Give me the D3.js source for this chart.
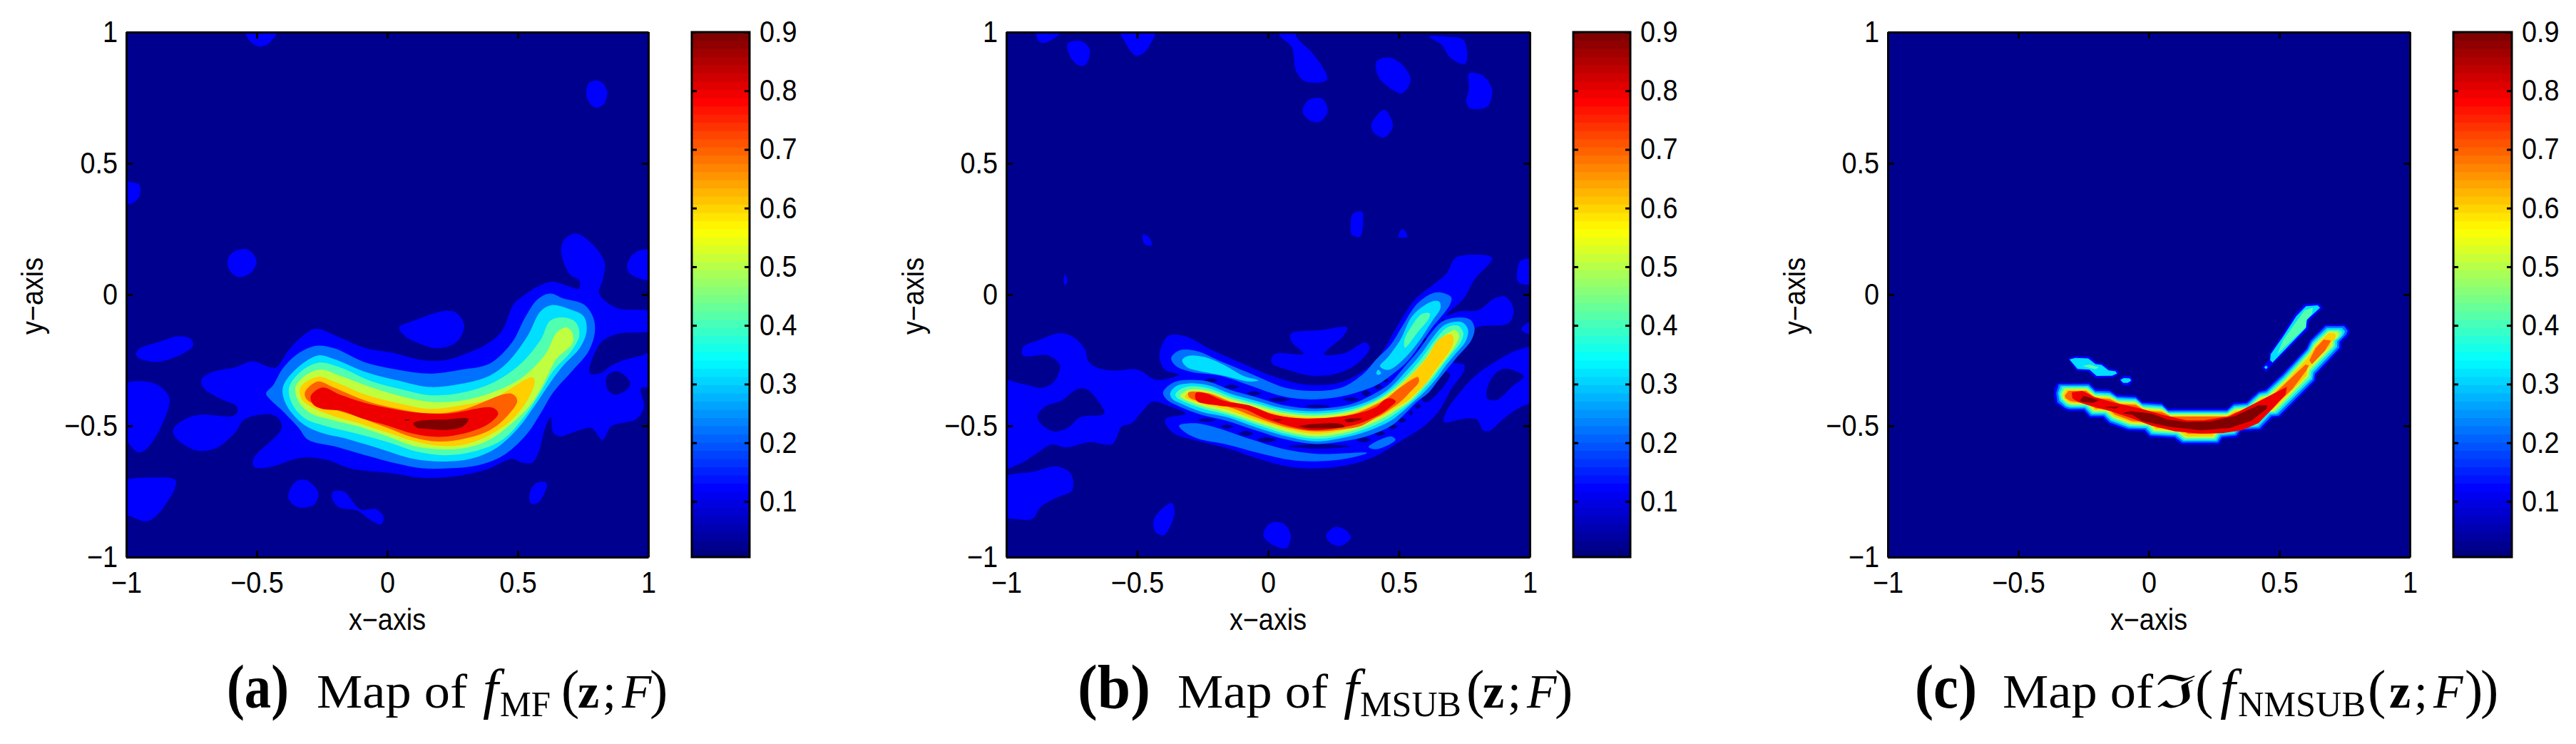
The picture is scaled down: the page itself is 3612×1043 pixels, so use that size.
<!DOCTYPE html>
<html><head><meta charset="utf-8">
<script src="https://cdn.jsdelivr.net/npm/d3@7"></script>
<style>html,body{margin:0;background:#fff}svg{display:block}text{fill:#000}</style>
</head><body><svg id="c" width="3612" height="1043"></svg>
<script>
// Contour levels of the maps, and their fill colours (background = below 0.1)
const levels=[0,0.1,0.2,0.3,0.4,0.5,0.6,0.7,0.8,0.9];
const levelColors=["#00008F","#0000FF","#0070FF","#00DFFF","#50FFAF","#BFFF40","#FFCF00","#FF6000","#EF0000","#800000"];
const axisTicks=[-1,-0.5,0,0.5,1];
const colorbarTicks=[0.1,0.2,0.3,0.4,0.5,0.6,0.7,0.8,0.9];
const colorbarDomain=[0.005,0.9];

// ---- panel (a) iso-lines [x,y]
const mfL1main=[[-0.272,-0.130],[-0.181,-0.164],[-0.083,-0.204],[0.026,-0.223],[0.136,-0.250],[0.222,-0.250],[0.307,-0.223],[0.392,-0.182],[0.441,-0.136],[0.484,-0.037],[0.526,-0.001],[0.587,0.036],[0.636,0.049],[0.697,0.031],[0.734,0.022],[0.736,0.054],[0.70,0.076],[0.666,0.166],[0.680,0.211],[0.722,0.233],[0.785,0.193],[0.833,0.121],[0.826,0.058],[0.812,0.004],[0.879,-0.051],[1.02,-0.069],[1.02,-0.132],[0.879,-0.150],[0.816,-0.186],[0.776,-0.299],[0.819,-0.299],[0.856,-0.272],[0.904,-0.250],[0.975,-0.232],[1.02,-0.22],[1.02,-0.35],[0.973,-0.357],[0.983,-0.43],[0.952,-0.475],[0.858,-0.502],[0.825,-0.553],[0.782,-0.508],[0.734,-0.517],[0.661,-0.540],[0.636,-0.526],[0.626,-0.467],[0.602,-0.517],[0.581,-0.598],[0.557,-0.639],[0.514,-0.639],[0.478,-0.626],[0.392,-0.662],[0.283,-0.689],[0.136,-0.698],[0.014,-0.680],[-0.144,-0.662],[-0.230,-0.630],[-0.327,-0.621],[-0.449,-0.657],[-0.510,-0.657],[-0.513,-0.626],[-0.406,-0.512],[-0.413,-0.476],[-0.449,-0.456],[-0.547,-0.476],[-0.583,-0.526],[-0.656,-0.585],[-0.730,-0.594],[-0.803,-0.553],[-0.821,-0.517],[-0.778,-0.476],[-0.717,-0.458],[-0.596,-0.463],[-0.575,-0.449],[-0.577,-0.426],[-0.644,-0.395],[-0.705,-0.354],[-0.711,-0.322],[-0.669,-0.295],[-0.583,-0.277],[-0.516,-0.254],[-0.449,-0.277],[-0.425,-0.277],[-0.376,-0.209],[-0.315,-0.150]];
const mfL1blobs=[
[[-0.545,1.02],[-0.53,0.97],[-0.49,0.945],[-0.45,0.96],[-0.42,1.02]],
[[0.774,0.807],[0.816,0.812],[0.843,0.771],[0.826,0.722],[0.795,0.713],[0.764,0.753]],
[[-1.02,0.44],[-0.981,0.428],[-0.950,0.419],[-0.950,0.374],[-0.981,0.347],[-1.02,0.355]],
[[-0.584,0.166],[-0.532,0.170],[-0.501,0.130],[-0.521,0.085],[-0.574,0.067],[-0.609,0.103],[-0.609,0.139]],
[[0.921,0.121],[0.952,0.162],[1.02,0.166],[1.02,0.058],[0.941,0.072],[0.921,0.094]],
[[0.045,-0.126],[0.100,-0.100],[0.222,-0.062],[0.264,-0.069],[0.295,-0.118],[0.264,-0.182],[0.191,-0.204],[0.112,-0.182],[0.069,-0.159]],
[[-0.955,-0.21],[-0.864,-0.177],[-0.803,-0.159],[-0.754,-0.168],[-0.744,-0.195],[-0.778,-0.222],[-0.864,-0.254],[-0.913,-0.254],[-0.96,-0.235]],
[[-1.02,-0.348],[-0.898,-0.336],[-0.835,-0.393],[-0.866,-0.502],[-0.918,-0.583],[-0.950,-0.601],[-0.985,-0.574],[-1.02,-0.466]],
[[-1.02,-0.718],[-0.898,-0.697],[-0.810,-0.709],[-0.856,-0.809],[-0.918,-0.863],[-0.981,-0.845],[-1.02,-0.827]],
[[-0.354,-0.715],[-0.312,-0.706],[-0.264,-0.755],[-0.281,-0.800],[-0.344,-0.809],[-0.379,-0.773]],
[[-0.208,-0.751],[-0.166,-0.751],[-0.103,-0.818],[-0.041,-0.818],[-0.014,-0.848],[-0.024,-0.875],[-0.072,-0.854],[-0.114,-0.823],[-0.187,-0.809],[-0.212,-0.773]],
[[0.576,-0.715],[0.611,-0.718],[0.603,-0.755],[0.576,-0.794],[0.549,-0.794],[0.549,-0.745]]
];
const mfHoles=[[[0.843,-0.309],[0.880,-0.292],[0.929,-0.331],[0.923,-0.358],[0.868,-0.381],[0.841,-0.354]]];
const mfL2=[[-0.272,-0.195],[-0.205,-0.204],[-0.083,-0.259],[0.039,-0.286],[0.161,-0.301],[0.283,-0.286],[0.392,-0.263],[0.478,-0.182],[0.526,-0.091],[0.575,-0.019],[0.624,0.004],[0.673,-0.014],[0.752,-0.037],[0.789,-0.087],[0.795,-0.146],[0.770,-0.218],[0.709,-0.290],[0.636,-0.372],[0.587,-0.453],[0.539,-0.526],[0.453,-0.607],[0.356,-0.648],[0.234,-0.662],[0.136,-0.662],[0.039,-0.644],[-0.083,-0.612],[-0.193,-0.580],[-0.303,-0.553],[-0.339,-0.508],[-0.400,-0.444],[-0.449,-0.399],[-0.464,-0.376],[-0.437,-0.345],[-0.400,-0.281],[-0.339,-0.223]];
const mfL3=[[-0.266,-0.232],[-0.205,-0.245],[-0.083,-0.295],[0.039,-0.327],[0.161,-0.352],[0.283,-0.340],[0.392,-0.309],[0.465,-0.254],[0.539,-0.155],[0.587,-0.064],[0.630,-0.040],[0.697,-0.055],[0.752,-0.082],[0.764,-0.136],[0.740,-0.200],[0.673,-0.272],[0.624,-0.336],[0.563,-0.426],[0.502,-0.508],[0.417,-0.585],[0.319,-0.626],[0.209,-0.636],[0.100,-0.626],[-0.035,-0.585],[-0.157,-0.549],[-0.254,-0.526],[-0.327,-0.490],[-0.388,-0.417],[-0.400,-0.354],[-0.352,-0.286]];
const mfL4=[[-0.260,-0.259],[-0.181,-0.277],[-0.059,-0.331],[0.063,-0.363],[0.161,-0.383],[0.283,-0.374],[0.404,-0.336],[0.502,-0.272],[0.587,-0.173],[0.624,-0.100],[0.673,-0.087],[0.722,-0.105],[0.736,-0.155],[0.703,-0.218],[0.636,-0.290],[0.587,-0.372],[0.526,-0.463],[0.441,-0.553],[0.331,-0.598],[0.222,-0.612],[0.112,-0.598],[0.002,-0.562],[-0.132,-0.526],[-0.242,-0.499],[-0.315,-0.472],[-0.364,-0.417],[-0.376,-0.354],[-0.327,-0.290]];
const mfL5=[[-0.254,-0.286],[-0.181,-0.309],[-0.059,-0.354],[0.063,-0.390],[0.161,-0.408],[0.283,-0.404],[0.404,-0.372],[0.514,-0.318],[0.606,-0.227],[0.648,-0.146],[0.685,-0.125],[0.709,-0.146],[0.709,-0.186],[0.648,-0.245],[0.600,-0.336],[0.551,-0.417],[0.478,-0.490],[0.392,-0.553],[0.295,-0.585],[0.197,-0.589],[0.100,-0.576],[0.002,-0.540],[-0.108,-0.503],[-0.217,-0.476],[-0.291,-0.453],[-0.339,-0.408],[-0.352,-0.354],[-0.315,-0.309]];
const mfL6=[[-0.266,-0.313],[-0.205,-0.331],[-0.083,-0.381],[0.039,-0.413],[0.161,-0.435],[0.283,-0.422],[0.404,-0.395],[0.557,-0.315],[0.565,-0.331],[0.539,-0.399],[0.478,-0.476],[0.392,-0.535],[0.295,-0.571],[0.197,-0.576],[0.100,-0.558],[0.002,-0.526],[-0.108,-0.490],[-0.205,-0.463],[-0.278,-0.435],[-0.327,-0.399],[-0.333,-0.354]];
const mfL7=[[-0.266,-0.331],[-0.205,-0.354],[-0.083,-0.404],[0.039,-0.435],[0.161,-0.453],[0.283,-0.440],[0.475,-0.377],[0.498,-0.404],[0.459,-0.463],[0.392,-0.517],[0.295,-0.549],[0.197,-0.560],[0.100,-0.544],[0.002,-0.508],[-0.108,-0.467],[-0.181,-0.444],[-0.266,-0.422],[-0.309,-0.399],[-0.315,-0.372]];
const mfL8=[[-0.248,-0.354],[-0.181,-0.381],[-0.083,-0.413],[0.014,-0.434],[0.112,-0.449],[0.234,-0.453],[0.404,-0.431],[0.425,-0.453],[0.392,-0.490],[0.307,-0.526],[0.197,-0.542],[0.100,-0.530],[0.002,-0.499],[-0.096,-0.472],[-0.175,-0.443],[-0.254,-0.434],[-0.285,-0.417],[-0.293,-0.386]];
const mfL9=[[[0.100,-0.490],[0.136,-0.479],[0.222,-0.476],[0.311,-0.474],[0.289,-0.503],[0.234,-0.515],[0.161,-0.512],[0.112,-0.506]],[[0.065,-0.476],[0.087,-0.476],[0.075,-0.481]]];

// ---- panel (b)
const msubL1main=[[-1.02,-0.33],[-0.948,-0.338],[-0.857,-0.354],[-0.814,-0.327],[-0.796,-0.268],[-0.839,-0.232],[-0.936,-0.232],[-0.936,-0.200],[-0.875,-0.173],[-0.790,-0.147],[-0.735,-0.168],[-0.699,-0.209],[-0.686,-0.254],[-0.656,-0.277],[-0.595,-0.290],[-0.498,-0.286],[-0.425,-0.325],[-0.340,-0.304],[-0.394,-0.286],[-0.415,-0.236],[-0.401,-0.182],[-0.376,-0.155],[-0.315,-0.159],[-0.218,-0.209],[-0.096,-0.263],[0.025,-0.313],[0.147,-0.343],[0.269,-0.336],[0.366,-0.290],[0.427,-0.232],[0.500,-0.109],[0.561,-0.019],[0.634,0.040],[0.682,0.081],[0.716,0.139],[0.789,0.152],[0.856,0.139],[0.789,0.058],[0.748,-0.014],[0.682,-0.078],[0.731,-0.064],[0.804,-0.059],[0.865,-0.014],[0.907,-0.008],[0.938,-0.055],[0.919,-0.109],[0.792,-0.127],[0.767,-0.182],[0.706,-0.254],[0.749,-0.268],[0.749,-0.290],[0.70,-0.36],[0.652,-0.444],[0.597,-0.5],[0.500,-0.562],[0.427,-0.607],[0.330,-0.644],[0.196,-0.662],[0.086,-0.657],[-0.036,-0.626],[-0.157,-0.585],[-0.267,-0.558],[-0.364,-0.526],[-0.394,-0.476],[-0.315,-0.453],[-0.376,-0.426],[-0.443,-0.408],[-0.480,-0.444],[-0.522,-0.490],[-0.559,-0.503],[-0.595,-0.569],[-0.680,-0.562],[-0.772,-0.582],[-0.826,-0.571],[-0.887,-0.607],[-0.948,-0.644],[-1.02,-0.66]];
const msubHoles=[
[[-0.881,-0.463],[-0.851,-0.426],[-0.790,-0.404],[-0.729,-0.360],[-0.693,-0.360],[-0.650,-0.404],[-0.626,-0.453],[-0.717,-0.467],[-0.766,-0.508],[-0.820,-0.521],[-0.869,-0.490]],
[[0.587,-0.400],[0.609,-0.409],[0.696,-0.305],[0.673,-0.293]]
];
const msubL1blobs=[
[[-0.885,1.02],[-0.875,0.965],[-0.85,0.96],[-0.80,0.99],[-0.78,1.02]],
[[-0.764,0.957],[-0.712,0.964],[-0.681,0.933],[-0.698,0.875],[-0.727,0.875],[-0.760,0.915]],
[[-0.57,1.02],[-0.545,0.96],[-0.505,0.91],[-0.47,0.925],[-0.43,1.02]],
[[0.045,1.02],[0.045,0.987],[0.091,0.942],[0.107,0.852],[0.143,0.812],[0.226,0.819],[0.174,0.915],[0.111,0.978],[0.095,1.02]],
[[0.414,0.888],[0.466,0.903],[0.518,0.870],[0.545,0.816],[0.512,0.767],[0.477,0.780],[0.425,0.825]],
[[0.616,0.982],[0.675,0.982],[0.748,0.969],[0.754,0.879],[0.696,0.903],[0.664,0.951]],
[[0.768,0.843],[0.821,0.834],[0.856,0.780],[0.838,0.717],[0.769,0.711],[0.758,0.735],[0.768,0.789]],
[[0.153,0.740],[0.205,0.747],[0.228,0.699],[0.195,0.657],[0.153,0.668],[0.132,0.699]],
[[0.414,0.680],[0.445,0.704],[0.477,0.644],[0.445,0.599],[0.404,0.617],[0.395,0.650]],
[[0.324,0.307],[0.358,0.316],[0.362,0.256],[0.351,0.220],[0.320,0.229],[0.316,0.274]],
[[0.514,0.251],[0.533,0.220],[0.497,0.220]],
[[-0.479,0.229],[-0.452,0.215],[-0.445,0.188],[-0.472,0.193]],
[[-0.775,0.078],[-0.767,0.05],[-0.775,0.035],[-0.781,0.05]],
[[0.956,0.112],[0.967,0.130],[1.02,0.133],[1.02,0.043],[0.956,0.049]],
[[1.02,-0.096],[0.967,-0.132],[1.02,-0.155]],
[[-1.02,-0.704],[-0.889,-0.673],[-0.806,-0.655],[-0.754,-0.682],[-0.748,-0.745],[-0.806,-0.773],[-0.869,-0.809],[-0.900,-0.854],[-0.973,-0.854],[-1.02,-0.845]],
[[-0.368,-0.794],[-0.358,-0.836],[-0.399,-0.917],[-0.431,-0.903],[-0.435,-0.854]],
[[0.007,-0.872],[0.059,-0.872],[0.087,-0.917],[0.070,-0.966],[0.018,-0.953],[-0.018,-0.917]],
[[0.258,-0.885],[0.299,-0.899],[0.316,-0.926],[0.278,-0.957],[0.237,-0.945],[0.222,-0.917]],
[[0.086,-0.150],[0.196,-0.136],[0.303,-0.126],[0.287,-0.159],[0.214,-0.227],[0.293,-0.223],[0.372,-0.182],[0.388,-0.204],[0.341,-0.263],[0.269,-0.299],[0.171,-0.309],[0.086,-0.290],[0.013,-0.259],[0.025,-0.227],[0.135,-0.225],[0.092,-0.182]],
[[1.02,-0.204],[0.960,-0.209],[0.877,-0.250],[0.792,-0.309],[0.719,-0.390],[0.682,-0.444],[0.672,-0.485],[0.755,-0.472],[0.798,-0.476],[0.822,-0.517],[0.846,-0.519],[0.901,-0.472],[0.960,-0.431],[1.02,-0.40]]
];
const msubHolesRight=[[[0.837,-0.394],[0.852,-0.321],[0.904,-0.282],[0.977,-0.312],[0.935,-0.348],[0.873,-0.402]]];
// dark pockets between the main ridge and its side lobes: [x, y, half-width, half-height]
const msubPockets=[[-0.218,-0.327,0.027,0.008],[-0.139,-0.351,0.027,0.008],[-0.054,-0.377,0.027,0.008],[0.043,-0.400,0.04,0.008],[0.189,-0.425,0.05,0.006],[0.317,-0.399,0.03,0.008],[0.374,-0.376,0.017,0.012],[0.421,-0.351,0.014,0.01],[0.449,-0.327,0.012,0.008],[-0.236,-0.478,0.035,0.006],[-0.157,-0.503,0.025,0.008],[-0.084,-0.529,0.027,0.009],[-0.005,-0.553,0.036,0.01],[0.196,-0.578,0.118,0.009],[0.366,-0.553,0.027,0.01],[0.427,-0.529,0.02,0.009],[0.475,-0.503,0.018,0.011],[0.512,-0.478,0.016,0.01],[0.546,-0.451,0.008,0.009],[0.573,-0.426,0.012,0.009],[0.599,-0.175,0.008,0.012],[0.573,-0.202,0.005,0.006],[0.670,-0.098,0.006,0.006]];
const msubL2=[
[[-0.370,-0.241],[-0.340,-0.213],[-0.279,-0.213],[-0.169,-0.259],[-0.048,-0.309],[0.062,-0.354],[0.171,-0.367],[0.281,-0.354],[0.366,-0.30],[0.414,-0.246],[0.469,-0.191],[0.514,-0.119],[0.568,-0.037],[0.623,0.003],[0.659,0.008],[0.700,-0.010],[0.697,-0.033],[0.677,-0.065],[0.632,-0.119],[0.587,-0.182],[0.532,-0.255],[0.468,-0.309],[0.414,-0.345],[0.366,-0.364],[0.269,-0.390],[0.147,-0.399],[0.050,-0.386],[-0.072,-0.345],[-0.182,-0.309],[-0.291,-0.295],[-0.352,-0.272]],
[[-0.340,-0.499],[-0.279,-0.490],[-0.194,-0.508],[-0.072,-0.549],[0.062,-0.589],[0.196,-0.607],[0.378,-0.603],[0.293,-0.626],[0.183,-0.635],[0.086,-0.630],[-0.036,-0.603],[-0.157,-0.571],[-0.267,-0.549],[-0.315,-0.526]],
[[0.384,-0.580],[0.469,-0.540],[0.487,-0.553],[0.415,-0.589]],
[[-0.401,-0.372],[-0.364,-0.336],[-0.303,-0.325],[-0.230,-0.331],[-0.145,-0.363],[-0.048,-0.390],[0.062,-0.422],[0.183,-0.434],[0.317,-0.417],[0.414,-0.373],[0.468,-0.336],[0.523,-0.273],[0.577,-0.210],[0.623,-0.146],[0.668,-0.101],[0.736,-0.087],[0.773,-0.096],[0.789,-0.128],[0.777,-0.173],[0.723,-0.237],[0.686,-0.282],[0.650,-0.327],[0.614,-0.373],[0.568,-0.409],[0.523,-0.454],[0.478,-0.495],[0.390,-0.535],[0.293,-0.558],[0.183,-0.569],[0.074,-0.553],[-0.048,-0.517],[-0.157,-0.481],[-0.255,-0.458],[-0.340,-0.426],[-0.388,-0.399]]
];
const msubL3=[
[[-0.328,-0.250],[-0.303,-0.233],[-0.242,-0.238],[-0.169,-0.268],[-0.096,-0.309],[-0.036,-0.327],[-0.072,-0.331],[-0.169,-0.309],[-0.267,-0.290],[-0.309,-0.277]],
[[0.637,-0.024],[0.655,-0.028],[0.659,-0.051],[0.627,-0.101],[0.573,-0.182],[0.514,-0.250],[0.459,-0.287],[0.428,-0.273],[0.459,-0.237],[0.505,-0.173],[0.550,-0.083],[0.596,-0.042]],
[[0.414,-0.30],[0.421,-0.286],[0.432,-0.30],[0.421,-0.306]],
[[-0.374,-0.377],[-0.352,-0.349],[-0.303,-0.338],[-0.230,-0.345],[-0.145,-0.377],[-0.048,-0.404],[0.062,-0.434],[0.183,-0.444],[0.317,-0.428],[0.414,-0.391],[0.468,-0.354],[0.528,-0.291],[0.587,-0.223],[0.632,-0.160],[0.677,-0.114],[0.741,-0.105],[0.764,-0.133],[0.755,-0.178],[0.714,-0.228],[0.677,-0.273],[0.641,-0.323],[0.600,-0.368],[0.555,-0.409],[0.509,-0.450],[0.468,-0.481],[0.378,-0.521],[0.293,-0.544],[0.183,-0.559],[0.074,-0.541],[-0.048,-0.505],[-0.157,-0.467],[-0.255,-0.446],[-0.328,-0.417],[-0.364,-0.399]]
];
const msubL4=[
[[0.587,-0.074],[0.618,-0.072],[0.614,-0.092],[0.573,-0.142],[0.523,-0.202],[0.521,-0.173],[0.546,-0.124]],
[[-0.354,-0.381],[-0.334,-0.360],[-0.297,-0.349],[-0.230,-0.356],[-0.145,-0.387],[-0.048,-0.414],[0.062,-0.443],[0.183,-0.453],[0.317,-0.437],[0.414,-0.400],[0.468,-0.364],[0.532,-0.305],[0.591,-0.237],[0.641,-0.169],[0.686,-0.124],[0.727,-0.119],[0.746,-0.146],[0.736,-0.182],[0.696,-0.232],[0.664,-0.273],[0.627,-0.323],[0.591,-0.364],[0.546,-0.409],[0.505,-0.441],[0.459,-0.472],[0.372,-0.512],[0.293,-0.535],[0.183,-0.549],[0.074,-0.532],[-0.048,-0.494],[-0.157,-0.458],[-0.248,-0.435],[-0.315,-0.410],[-0.346,-0.395]]
];
const msubL5=[[-0.336,-0.386],[-0.315,-0.367],[-0.285,-0.360],[-0.230,-0.366],[-0.145,-0.396],[-0.048,-0.422],[0.062,-0.451],[0.183,-0.461],[0.317,-0.444],[0.414,-0.406],[0.468,-0.373],[0.537,-0.314],[0.600,-0.246],[0.646,-0.178],[0.696,-0.142],[0.714,-0.135],[0.730,-0.155],[0.718,-0.191],[0.682,-0.241],[0.650,-0.282],[0.618,-0.323],[0.577,-0.368],[0.537,-0.409],[0.496,-0.436],[0.450,-0.465],[0.366,-0.503],[0.293,-0.526],[0.183,-0.540],[0.074,-0.523],[-0.048,-0.485],[-0.157,-0.449],[-0.248,-0.426],[-0.309,-0.404],[-0.328,-0.395]];
const msubL6=[[-0.318,-0.390],[-0.303,-0.372],[-0.230,-0.372],[-0.145,-0.404],[-0.048,-0.431],[0.062,-0.458],[0.183,-0.469],[0.317,-0.452],[0.414,-0.413],[0.459,-0.386],[0.532,-0.323],[0.609,-0.237],[0.650,-0.173],[0.700,-0.151],[0.709,-0.178],[0.691,-0.219],[0.664,-0.255],[0.637,-0.291],[0.605,-0.336],[0.568,-0.373],[0.528,-0.409],[0.487,-0.431],[0.441,-0.459],[0.360,-0.494],[0.293,-0.515],[0.183,-0.530],[0.074,-0.512],[-0.048,-0.476],[-0.157,-0.438],[-0.248,-0.417],[-0.303,-0.399]];
const msubL7=[[-0.303,-0.372],[-0.230,-0.376],[-0.145,-0.408],[-0.048,-0.437],[0.062,-0.465],[0.183,-0.474],[0.317,-0.458],[0.414,-0.418],[0.459,-0.391],[0.505,-0.354],[0.573,-0.314],[0.576,-0.332],[0.541,-0.373],[0.505,-0.409],[0.468,-0.436],[0.432,-0.459],[0.414,-0.468],[0.348,-0.503],[0.293,-0.512],[0.183,-0.521],[0.074,-0.506],[-0.048,-0.467],[-0.157,-0.426],[-0.248,-0.408],[-0.297,-0.395],[-0.306,-0.381]];
const msubL8=[[-0.276,-0.375],[-0.242,-0.375],[-0.169,-0.404],[-0.072,-0.422],[0.025,-0.458],[0.147,-0.472],[0.317,-0.458],[0.414,-0.427],[0.446,-0.400],[0.468,-0.395],[0.488,-0.407],[0.468,-0.427],[0.432,-0.454],[0.414,-0.463],[0.341,-0.494],[0.269,-0.508],[0.171,-0.517],[0.074,-0.499],[-0.011,-0.472],[-0.096,-0.435],[-0.194,-0.422],[-0.273,-0.404]];
const msubL9=[[[0.120,-0.501],[0.275,-0.492],[0.293,-0.503],[0.147,-0.508]],[[0.293,-0.476],[0.360,-0.473],[0.323,-0.485],[0.299,-0.485]],[[0.019,-0.476],[0.056,-0.476],[0.037,-0.481]]];

// ---- panel (c)
const nmsubL1=[
[[-0.363,-0.357],[-0.349,-0.336],[-0.239,-0.336],[-0.227,-0.334],[-0.204,-0.359],[-0.150,-0.361],[-0.122,-0.381],[-0.049,-0.384],[-0.027,-0.406],[0.051,-0.411],[0.073,-0.434],[0.301,-0.434],[0.324,-0.411],[0.374,-0.408],[0.420,-0.366],[0.447,-0.360],[0.511,-0.300],[0.602,-0.205],[0.616,-0.173],[0.675,-0.114],[0.752,-0.114],[0.770,-0.137],[0.766,-0.155],[0.738,-0.182],[0.738,-0.205],[0.643,-0.304],[0.638,-0.331],[0.502,-0.467],[0.474,-0.470],[0.429,-0.517],[0.356,-0.521],[0.338,-0.544],[0.283,-0.549],[0.269,-0.571],[0.124,-0.571],[0.096,-0.549],[0.001,-0.544],[-0.018,-0.521],[-0.081,-0.519],[-0.154,-0.494],[-0.177,-0.470],[-0.227,-0.470],[-0.250,-0.444],[-0.309,-0.444],[-0.322,-0.439],[-0.357,-0.415],[-0.363,-0.384]],
[[-0.309,-0.243],[-0.282,-0.234],[-0.227,-0.236],[-0.200,-0.259],[-0.177,-0.261],[-0.150,-0.283],[-0.122,-0.286],[-0.113,-0.301],[-0.136,-0.315],[-0.204,-0.318],[-0.232,-0.292],[-0.277,-0.290]],
[[-0.113,-0.325],[-0.098,-0.309],[-0.070,-0.310],[-0.061,-0.328],[-0.077,-0.347],[-0.101,-0.345]],
[[0.433,-0.277],[0.461,-0.250],[0.463,-0.222],[0.511,-0.153],[0.561,-0.073],[0.597,-0.035],[0.652,-0.033],[0.666,-0.050],[0.615,-0.100],[0.611,-0.132],[0.472,-0.268],[0.449,-0.295]]
];
const nmsubL2=[[[-0.355,-0.375],[-0.345,-0.342],[-0.23,-0.341],[-0.205,-0.366],[-0.15,-0.368],[-0.122,-0.388],[-0.05,-0.391],[-0.027,-0.413],[0.05,-0.418],[0.073,-0.441],[0.30,-0.441],[0.325,-0.418],[0.376,-0.414],[0.422,-0.372],[0.449,-0.366],[0.514,-0.306],[0.606,-0.208],[0.621,-0.176],[0.678,-0.120],[0.748,-0.120],[0.762,-0.138],[0.756,-0.152],[0.730,-0.180],[0.730,-0.203],[0.636,-0.302],[0.632,-0.327],[0.498,-0.461],[0.470,-0.463],[0.425,-0.510],[0.352,-0.514],[0.335,-0.537],[0.280,-0.542],[0.265,-0.564],[0.128,-0.564],[0.099,-0.542],[0.005,-0.537],[-0.015,-0.514],[-0.078,-0.512],[-0.150,-0.487],[-0.173,-0.463],[-0.224,-0.463],[-0.247,-0.437],[-0.305,-0.437],[-0.320,-0.432],[-0.350,-0.410]]];
const nmsubL3=[
[[-0.348,-0.375],[-0.338,-0.347],[-0.232,-0.347],[-0.205,-0.372],[-0.15,-0.375],[-0.12,-0.394],[-0.05,-0.397],[-0.025,-0.419],[0.05,-0.424],[0.075,-0.446],[0.30,-0.446],[0.327,-0.424],[0.378,-0.42],[0.424,-0.378],[0.452,-0.372],[0.517,-0.312],[0.61,-0.212],[0.626,-0.18],[0.682,-0.127],[0.74,-0.127],[0.752,-0.14],[0.745,-0.155],[0.722,-0.178],[0.722,-0.2],[0.63,-0.297],[0.626,-0.322],[0.492,-0.455],[0.465,-0.457],[0.42,-0.504],[0.347,-0.508],[0.33,-0.531],[0.275,-0.536],[0.26,-0.558],[0.132,-0.558],[0.103,-0.536],[0.01,-0.531],[-0.01,-0.508],[-0.075,-0.506],[-0.146,-0.481],[-0.17,-0.457],[-0.22,-0.457],[-0.244,-0.431],[-0.302,-0.431],[-0.318,-0.426],[-0.342,-0.405]],
[[-0.304,-0.247],[-0.282,-0.241],[-0.232,-0.243],[-0.204,-0.265],[-0.181,-0.268],[-0.154,-0.289],[-0.127,-0.292],[-0.122,-0.301],[-0.141,-0.309],[-0.200,-0.310],[-0.227,-0.286],[-0.273,-0.283]],
[[-0.109,-0.325],[-0.095,-0.318],[-0.072,-0.319],[-0.068,-0.328],[-0.081,-0.336],[-0.098,-0.336]],
[[0.467,-0.227],[0.515,-0.159],[0.565,-0.082],[0.602,-0.044],[0.647,-0.041],[0.656,-0.050],[0.606,-0.096],[0.602,-0.127],[0.474,-0.259],[0.465,-0.25]],
[[0.449,-0.27],[0.456,-0.277],[0.449,-0.284],[0.442,-0.277]]
];
const nmsubL4=[
[[-0.342,-0.378],[-0.33,-0.352],[-0.235,-0.352],[-0.205,-0.378],[-0.15,-0.381],[-0.118,-0.4],[-0.05,-0.403],[-0.023,-0.425],[0.05,-0.43],[0.077,-0.451],[0.30,-0.451],[0.329,-0.43],[0.38,-0.425],[0.426,-0.384],[0.455,-0.378],[0.52,-0.318],[0.614,-0.216],[0.63,-0.185],[0.686,-0.134],[0.73,-0.134],[0.742,-0.143],[0.735,-0.158],[0.714,-0.176],[0.714,-0.197],[0.623,-0.292],[0.62,-0.317],[0.486,-0.45],[0.46,-0.45],[0.415,-0.498],[0.342,-0.502],[0.325,-0.525],[0.27,-0.53],[0.255,-0.552],[0.136,-0.552],[0.107,-0.53],[0.015,-0.525],[-0.005,-0.502],[-0.072,-0.5],[-0.142,-0.475],[-0.167,-0.451],[-0.216,-0.451],[-0.24,-0.425],[-0.298,-0.425],[-0.315,-0.42],[-0.336,-0.4]],
[[-0.254,-0.271],[-0.227,-0.266],[-0.191,-0.277],[-0.204,-0.284],[-0.227,-0.280]],
[[0.492,-0.227],[0.515,-0.173],[0.570,-0.096],[0.597,-0.059],[0.629,-0.050],[0.625,-0.073],[0.602,-0.100],[0.602,-0.123]]
];
const nmsubL5=[[[-0.335,-0.38],[-0.322,-0.357],[-0.238,-0.357],[-0.205,-0.384],[-0.15,-0.387],[-0.116,-0.406],[-0.05,-0.409],[-0.02,-0.431],[0.05,-0.436],[0.08,-0.456],[0.3,-0.456],[0.33,-0.436],[0.382,-0.43],[0.428,-0.39],[0.458,-0.384],[0.522,-0.325],[0.618,-0.22],[0.634,-0.19],[0.688,-0.14],[0.72,-0.14],[0.73,-0.148],[0.725,-0.163],[0.706,-0.176],[0.706,-0.195],[0.616,-0.288],[0.612,-0.312],[0.48,-0.445],[0.455,-0.445],[0.41,-0.492],[0.337,-0.497],[0.32,-0.519],[0.265,-0.524],[0.25,-0.546],[0.14,-0.546],[0.11,-0.524],[0.02,-0.519],[0,-0.497],[-0.07,-0.494],[-0.138,-0.469],[-0.163,-0.445],[-0.212,-0.445],[-0.236,-0.419],[-0.294,-0.419],[-0.31,-0.415],[-0.33,-0.398]]];
const nmsubL6=[[[-0.328,-0.382],[-0.315,-0.362],[-0.24,-0.362],[-0.205,-0.39],[-0.15,-0.393],[-0.113,-0.412],[-0.05,-0.415],[-0.018,-0.437],[0.05,-0.442],[0.082,-0.461],[0.3,-0.461],[0.332,-0.442],[0.384,-0.436],[0.43,-0.396],[0.46,-0.39],[0.525,-0.331],[0.61,-0.24],[0.64,-0.195],[0.69,-0.146],[0.71,-0.146],[0.717,-0.155],[0.712,-0.172],[0.7,-0.18],[0.695,-0.195],[0.608,-0.282],[0.605,-0.308],[0.475,-0.44],[0.45,-0.44],[0.405,-0.487],[0.332,-0.492],[0.315,-0.513],[0.26,-0.518],[0.245,-0.54],[0.145,-0.54],[0.115,-0.518],[0.025,-0.513],[0.005,-0.491],[-0.067,-0.488],[-0.134,-0.463],[-0.16,-0.44],[-0.208,-0.44],[-0.232,-0.414],[-0.29,-0.414],[-0.306,-0.41],[-0.325,-0.395]]];
const nmsubL7=[
[[-0.322,-0.385],[-0.308,-0.367],[-0.24,-0.367],[-0.205,-0.395],[-0.15,-0.398],[-0.11,-0.417],[-0.05,-0.42],[-0.015,-0.442],[0.05,-0.447],[0.085,-0.465],[0.3,-0.465],[0.335,-0.448],[0.385,-0.442],[0.432,-0.402],[0.462,-0.396],[0.6,-0.266],[0.613,-0.27],[0.603,-0.29],[0.55,-0.36],[0.47,-0.434],[0.445,-0.434],[0.4,-0.482],[0.327,-0.487],[0.31,-0.508],[0.255,-0.512],[0.24,-0.53],[0.15,-0.53],[0.12,-0.512],[0.03,-0.507],[0.01,-0.485],[-0.063,-0.482],[-0.13,-0.457],[-0.156,-0.434],[-0.204,-0.434],[-0.228,-0.408],[-0.286,-0.408],[-0.302,-0.405],[-0.318,-0.395]],
[[0.670,-0.171],[0.698,-0.175],[0.675,-0.213],[0.625,-0.265],[0.615,-0.25],[0.638,-0.205]]
];
const nmsubL8=[[[-0.295,-0.372],[-0.254,-0.367],[-0.209,-0.390],[-0.127,-0.413],[-0.045,-0.431],[0.074,-0.463],[0.146,-0.479],[0.210,-0.479],[0.310,-0.463],[0.383,-0.426],[0.529,-0.351],[0.524,-0.381],[0.474,-0.435],[0.420,-0.490],[0.356,-0.517],[0.283,-0.528],[0.201,-0.530],[0.101,-0.521],[0.010,-0.499],[-0.063,-0.472],[-0.145,-0.444],[-0.218,-0.426],[-0.273,-0.408],[-0.293,-0.395]]];
const nmsubL9=[
[[-0.100,-0.452],[-0.072,-0.444],[0.010,-0.453],[0.074,-0.476],[0.146,-0.485],[0.237,-0.483],[0.328,-0.463],[0.420,-0.422],[0.454,-0.422],[0.452,-0.435],[0.392,-0.481],[0.310,-0.508],[0.201,-0.517],[0.074,-0.503],[-0.027,-0.481],[-0.063,-0.458]],
[[-0.265,-0.404],[-0.250,-0.386],[-0.191,-0.402],[-0.213,-0.413],[-0.254,-0.408]],
[[-0.168,-0.428],[-0.113,-0.426],[-0.127,-0.434],[-0.159,-0.431]]
];

const pocketRing=([x,y,a,b])=>[[x-a,y],[x,y+b],[x+a,y],[x,y-b]];

const mfLayers=[[1,[mfL1main,...mfL1blobs]],[0,mfHoles],[2,[mfL2]],[3,[mfL3]],[4,[mfL4]],[5,[mfL5]],[6,[mfL6]],[7,[mfL7]],[8,[mfL8]],[9,mfL9]];
const msubLayers=[[1,[msubL1main,...msubL1blobs]],[0,[...msubHoles,...msubHolesRight,...msubPockets.map(pocketRing)]],[2,msubL2],[3,msubL3],[4,msubL4],[5,[msubL5]],[6,[msubL6]],[7,[msubL7]],[8,[msubL8]],[9,msubL9]];
const nmsubLayers=[[1,nmsubL1],[2,nmsubL2],[3,nmsubL3],[4,nmsubL4],[5,nmsubL5],[6,nmsubL6],[7,nmsubL7],[8,nmsubL8],[9,nmsubL9]];

const FONT="'Liberation Sans',Arial,sans-serif", SERIF="'Liberation Serif',serif";
const LABEL_SIZE=42, LABEL_SQUEEZE=0.9;
const plotTop=45,plotBottom=781;
const panels=[
 {x0:177,x1:909,cb0:970,cb1:1051,ylabX:60,layers:mfLayers,curve:d3.curveCatmullRomClosed.alpha(0.5)},
 {x0:1411,x1:2145,cb0:2206,cb1:2286,ylabX:1295,layers:msubLayers,curve:d3.curveCatmullRomClosed.alpha(0.5)},
 {x0:2647,x1:3379,cb0:3440,cb1:3522,ylabX:2531,layers:nmsubLayers,curve:d3.curveLinearClosed}
];
const svg=d3.select("#c");
const levelColor=d3.scaleOrdinal(levels,levelColors);
const cbY=d3.scaleLinear(colorbarDomain,[plotBottom,plotTop]);
const fmt=d=>String(d).replace("-","\u2212");
const noLabel=()=>"";
const jet=t=>{const c=v=>Math.round(255*Math.max(0,Math.min(1,v)));
 return `rgb(${c(Math.min(4*t-1.5,-4*t+4.5))},${c(Math.min(4*t-0.5,-4*t+3.5))},${c(Math.min(4*t+0.5,-4*t+2.5))})`;};
const squeeze=function(){const l=this.getComputedTextLength();if(l>0){this.setAttribute("textLength",l*LABEL_SQUEEZE);this.setAttribute("lengthAdjust","spacingAndGlyphs");}};
const styleAxis=g=>{g.selectAll("path").attr("stroke","#000").attr("stroke-width",3);
 g.selectAll("line").attr("stroke","#000").attr("stroke-width",3);
 g.selectAll("text").attr("font-family",FONT).attr("font-size",LABEL_SIZE).attr("fill","#000").each(squeeze);};

panels.forEach((p,i)=>{
 const xS=d3.scaleLinear([-1,1],[p.x0,p.x1]), yS=d3.scaleLinear([-1,1],[plotBottom,plotTop]);
 const line=d3.line(d=>xS(d[0]),d=>yS(d[1])).curve(p.curve);
 svg.append("clipPath").attr("id","clip"+i).append("rect").attr("x",p.x0).attr("y",plotTop).attr("width",p.x1-p.x0).attr("height",plotBottom-plotTop);
 const g=svg.append("g").attr("clip-path",`url(#clip${i})`);
 g.append("rect").attr("x",p.x0).attr("y",plotTop).attr("width",p.x1-p.x0).attr("height",plotBottom-plotTop).attr("fill",levelColor(0));
 p.layers.forEach(([li,rings])=>{
  g.append("g").selectAll("path").data(rings).join("path").attr("d",line).attr("fill",levelColor(levels[li]));
 });
 const inner=-9;
 svg.append("g").attr("transform",`translate(0,${plotBottom})`).call(d3.axisBottom(xS).tickValues(axisTicks).tickFormat(fmt).tickSizeInner(inner).tickSizeOuter(0).tickPadding(20)).call(styleAxis);
 svg.append("g").attr("transform",`translate(0,${plotTop})`).call(d3.axisTop(xS).tickValues(axisTicks).tickFormat(noLabel).tickSizeInner(inner).tickSizeOuter(0)).call(styleAxis);
 svg.append("g").attr("transform",`translate(${p.x0},0)`).call(d3.axisLeft(yS).tickValues(axisTicks).tickFormat(fmt).tickSizeInner(inner).tickSizeOuter(0).tickPadding(12)).call(styleAxis);
 svg.append("g").attr("transform",`translate(${p.x1},0)`).call(d3.axisRight(yS).tickValues(axisTicks).tickFormat(noLabel).tickSizeInner(inner).tickSizeOuter(0)).call(styleAxis);
 // axis titles
 svg.append("text").attr("x",(p.x0+p.x1)/2).attr("y",883).attr("text-anchor","middle").attr("font-family",FONT).attr("font-size",LABEL_SIZE).text("x\u2212axis").each(squeeze);
 svg.append("text").attr("transform",`translate(${p.ylabX},415) rotate(-90)`).attr("text-anchor","middle").attr("font-family",FONT).attr("font-size",LABEL_SIZE).text("y\u2212axis").each(squeeze);
 // colour bar
 const n=64, steps=d3.range(n);
 const cbv=d3.scaleLinear([0,n],colorbarDomain);
 svg.append("g").selectAll("rect").data(steps).join("rect")
  .attr("x",p.cb0).attr("width",p.cb1-p.cb0)
  .attr("y",d=>cbY(cbv(d+1))).attr("height",d=>cbY(cbv(d))-cbY(cbv(d+1))+0.6)
  .attr("fill",d=>jet(d/(n-1)));
 svg.append("rect").attr("x",p.cb0).attr("y",plotTop).attr("width",p.cb1-p.cb0).attr("height",plotBottom-plotTop).attr("fill","none").attr("stroke","#000").attr("stroke-width",3);
 svg.append("g").attr("transform",`translate(${p.cb1},0)`).call(d3.axisRight(cbY).tickValues(colorbarTicks).tickFormat(d3.format(".1f")).tickSizeInner(-7).tickSizeOuter(0).tickPadding(14)).call(styleAxis).select("path").remove();
 svg.append("g").attr("transform",`translate(${p.cb0},0)`).call(d3.axisLeft(cbY).tickValues(colorbarTicks).tickFormat(noLabel).tickSizeInner(-7).tickSizeOuter(0)).call(styleAxis).select("path").remove();
});

// captions: [text, x, width or null, font-size, weight, style, baseline shift]
const captionA=[["(a)",318,87,86,"bold","normal",0],["Map of",444,211,68,"normal","normal",0],["f",677,null,78,"normal","italic",0],["MF",701,71,50,"normal","normal",12],["(",787,null,76,"normal","normal",0],["z",810,null,68,"bold","normal",0],[";",845,null,68,"normal","normal",0],["F",872,null,68,"normal","italic",0],[")",911,null,76,"normal","normal",0]];
const captionB=[["(b)",1511,102,86,"bold","normal",0],["Map of",1651,211,68,"normal","normal",0],["f",1884,null,78,"normal","italic",0],["MSUB",1907,142,50,"normal","normal",12],["(",2056,null,76,"normal","normal",0],["z",2079,null,68,"bold","normal",0],[";",2114,null,68,"normal","normal",0],["F",2141,null,68,"normal","italic",0],[")",2180,null,76,"normal","normal",0]];
const captionC=[["(c)",2685,87,86,"bold","normal",0],["Map of",2808,211,68,"normal","normal",0],["\u2111",3022,58,64,"normal","normal",0],["(",3078,null,76,"normal","normal",0],["f",3113,null,78,"normal","italic",0],["NMSUB",3138,179,50,"normal","normal",12],["(",3320,null,76,"normal","normal",0],["z",3350,null,68,"bold","normal",0],[";",3385,null,68,"normal","normal",0],["F",3412,null,68,"normal","italic",0],[")",3456,null,76,"normal","normal",0],[")",3478,null,76,"normal","normal",0]];
[captionA,captionB,captionC].forEach(cap=>{
 svg.append("g").selectAll("text").data(cap).join("text")
  .attr("x",d=>d[1]).attr("y",d=>992+d[6])
  .attr("font-family",SERIF).attr("font-size",d=>d[3]).attr("font-weight",d=>d[4]).attr("font-style",d=>d[5])
  .each(function(d){if(d[2]){d3.select(this).attr("textLength",d[2]).attr("lengthAdjust","spacingAndGlyphs");}})
  .text(d=>d[0]);
});
</script></body></html>
